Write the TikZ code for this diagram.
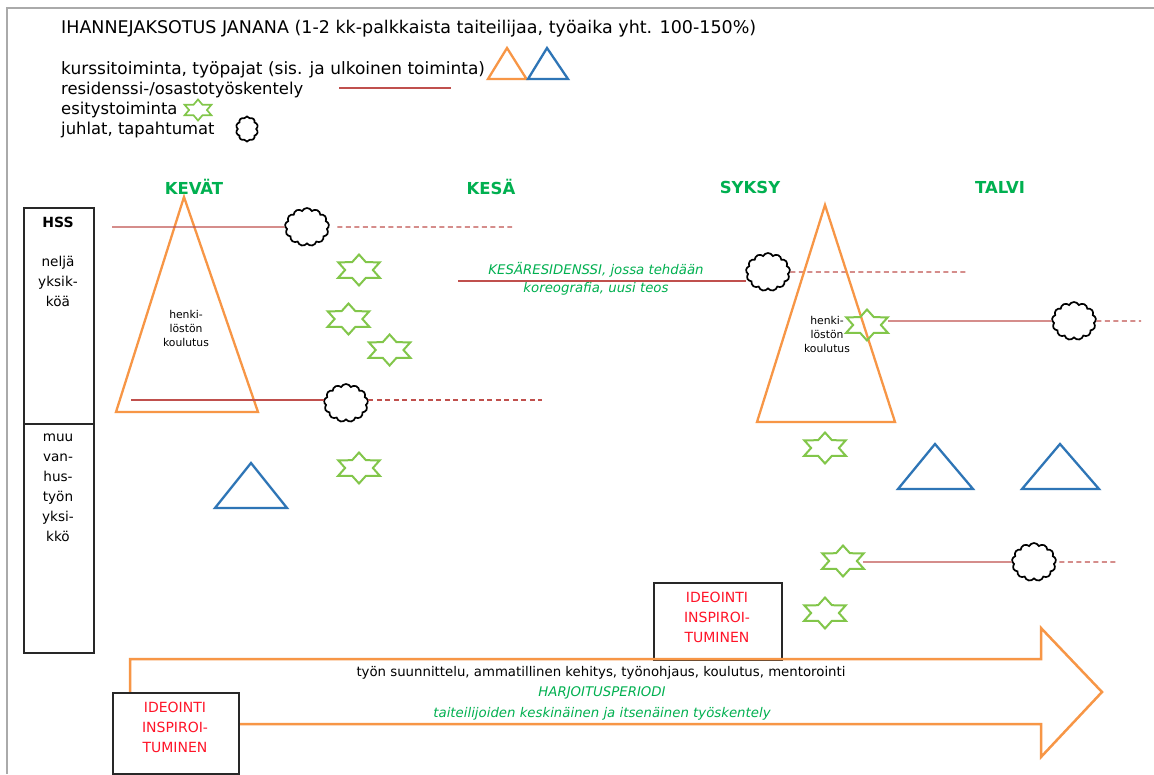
\documentclass[tikz,border=0pt]{standalone}
\usepackage{fontspec}
\setmainfont{DejaVu Sans}
\usetikzlibrary{shapes.geometric,shapes.symbols}
\definecolor{orng}{RGB}{247,150,70}
\definecolor{blu}{RGB}{46,117,182}
\definecolor{resred}{RGB}{192,80,77}
\definecolor{stargreen}{RGB}{130,198,74}
\definecolor{sgreen}{RGB}{0,176,80}
\definecolor{ired}{RGB}{255,20,40}
\definecolor{framegray}{RGB}{170,170,170}
\definecolor{boxline}{RGB}{40,40,40}
\newcommand{\fsz}[2]{\fontsize{#1}{#2}\selectfont}
\tikzset{
  legend/.style={inner sep=0pt, anchor=west, font=\fsz{16.4}{20}},
  season/.style={inner sep=0pt, text=sgreen, font=\bfseries\fsz{16.5}{18}},
  resline/.style={draw=resred, line width=1.3pt},
  resdash/.style={draw=resred, line width=1.3pt, dash pattern=on 5pt off 3.5pt},
  orangetri/.style={draw=orng, line width=2.3pt},
  bluetri/.style={draw=blu, line width=2.3pt},
  staricon/.style={star, star points=6, star point ratio=1.73, draw=stargreen,
    line width=2pt, minimum size=31pt, inner sep=0pt, xscale=1.55},
  cloudicon/.style={cloud, cloud puffs=13, cloud puff arc=130, draw=black,
    line width=1.7pt, minimum width=44pt, minimum height=38pt, inner sep=0pt},
  boxst/.style={draw=boxline, line width=1.8pt, inner sep=0pt},
  boxtxt/.style={inner sep=0pt, align=center, font=\fsz{13.6}{20}},
  smalltxt/.style={inner sep=0pt, align=center, font=\fsz{10.8}{14}},
  redtxt/.style={inner sep=0pt, align=center, text=ired, font=\fsz{14}{20}},
  arrtxt/.style={inner sep=0pt, font=\fsz{13.3}{16}},
  greenital/.style={inner sep=0pt, align=center, text=sgreen, font=\itshape\fsz{13.3}{18}},
  bigarrow/.style={draw=orng, line width=2.5pt, line join=miter}
}
\begin{document}
\begin{tikzpicture}[x=1pt,y=-1pt]
\useasboundingbox (0,0) rectangle (1154,774);
\fill[white] (0,0) rectangle (1154,774);
\draw[framegray, line width=2pt] (7,774) -- (7,8) -- (1154,8);

% legend
\node[legend, font=\fsz{17.5}{20}] (title) at (61,29) {IHANNEJAKSOTUS JANANA (1-2 kk-palkkaista taiteilijaa, työaika yht. 100-150\%)};
\node[legend, font=\fsz{17}{20}] (lk) at (61,70) {kurssitoiminta, työpajat (sis. ja ulkoinen toiminta)};
\draw[orangetri] (488,79) -- (507,48) -- (526.5,79) -- cycle;
\draw[bluetri] (528,79) -- (547,48) -- (568,79) -- cycle;
\node[legend] (lr) at (61,89.5) {residenssi-/osastotyöskentely};
\coordinate (lra) at (339,88);
\coordinate (lrb) at (451,88);
\draw[resline] (lra) -- (lrb);
\node[legend] (le) at (61,110) {esitystoiminta};
\node[staricon, minimum size=21pt, xscale=0.95, line width=1.7pt] (les) at (198,110) {};
\node[legend] (lj) at (61,130) {juhlat, tapahtumat};
\node[cloudicon, minimum width=22pt, minimum height=25pt, cloud puffs=10] (ljc) at (247,129) {};

% seasons
\node[season] (kevat) at (194,187) {KEVÄT};
\node[season] (kesa) at (491,187) {KESÄ};
\node[season] (syksy) at (750,187) {SYKSY};
\node[season] (talvi) at (1000,187) {TALVI};

% left box
\node[boxst, minimum width=70pt, minimum height=216pt, anchor=north west] (hssbox) at (23,207) {};
\node[boxst, minimum width=70pt, minimum height=229pt, anchor=north west] (muubox) at (23,423) {};
\node[boxtxt, font=\bfseries\fsz{14}{20}] (hss) at (58,222) {HSS};
\node[boxtxt] (nelja) at (58,281) {neljä\\yksik-\\köä};
\node[boxtxt] (muu) at (58,487.5) {muu\\van-\\hus-\\työn\\yksi-\\kkö};

% spring triangle
\draw[orangetri] (116,412) -- (184,197) -- (258,412) -- cycle;
\node[smalltxt] (t1txt) at (186,328) {henki-\\löstön\\koulutus};

% residency lines + clouds (left)
\node[cloudicon] (c1) at (307,227) {};
\coordinate (r1a) at (112,227);
\coordinate (d1b) at (512,227);
\draw[resline] (r1a) -- (c1.west);
\draw[resdash] ([xshift=8pt]c1.east) -- (d1b);

\node[cloudicon] (c2) at (346,403) {};
\coordinate (r2a) at (131,400);
\coordinate (d2b) at (542,400);
\draw[resline] (r2a) -- (r2a -| c2.west);
\draw[resdash] (c2.east |- d2b) -- (d2b);

% stars left
\node[staricon] (s1) at (359,270) {};
\node[staricon] (s2) at (348.5,319) {};
\node[staricon] (s3) at (389.6,350) {};
\node[staricon] (s4) at (359,468) {};

\draw[bluetri] (215,508) -- (251,463) -- (287,508) -- cycle;

% summer residency
\node[greenital] (kres) at (596,279) {KESÄRESIDENSSI, jossa tehdään\\koreografia, uusi teos};
\node[cloudicon] (c3) at (768,272) {};
\coordinate (r3a) at (458,281);
\coordinate (d3b) at (968,272);
\draw[resline] (r3a) -- (r3a -| c3.west);
\draw[resdash] (c3.east) -- (d3b);

% autumn triangle
\draw[orangetri] (757,422) -- (825,205) -- (895,422) -- cycle;
\node[smalltxt] (t2txt) at (827,334) {henki-\\löstön\\koulutus};
\node[staricon] (s5) at (867,325) {};
\node[cloudicon] (c4) at (1074,321) {};
\coordinate (r4a) at (888,321);
\coordinate (d4b) at (1141,321);
\draw[resline] (r4a) -- (c4.west);
\draw[resdash] (c4.east) -- (d4b);

\node[staricon] (s6) at (825,448) {};
\draw[bluetri] (898,489) -- (935,444) -- (973,489) -- cycle;
\draw[bluetri] (1022,489) -- (1060,444) -- (1099,489) -- cycle;

\node[staricon] (s7) at (843,561) {};
\node[cloudicon] (c5) at (1034,562) {};
\coordinate (r5a) at (863,562);
\coordinate (d5b) at (1117,562);
\draw[resline] (r5a) -- (c5.west);
\draw[resdash] ([xshift=3pt]c5.east) -- (d5b);

\node[staricon] (s8) at (825,613) {};

% top ideointi box
\node[boxst, minimum width=128pt, minimum height=77pt, anchor=north west] (ibox2) at (653,582) {};
\node[redtxt] (itxt2) at (717,617) {IDEOINTI\\INSPIROI-\\TUMINEN};

% big arrow
\draw[bigarrow] (130,724) -- (130,659) -- (1041,659) -- (1041,628) -- (1102,692) -- (1041,757) -- (1041,724) -- cycle;
\node[arrtxt] (a1) at (601,673) {työn suunnittelu, ammatillinen kehitys, työnohjaus, koulutus, mentorointi};
\node[greenital] (a2) at (602,693) {HARJOITUSPERIODI};
\node[greenital] (a3) at (602,714) {taiteilijoiden keskinäinen ja itsenäinen työskentely};

% bottom ideointi box
\node[boxst, fill=white, minimum width=126pt, minimum height=81pt, anchor=north west] (ibox1) at (112,692) {};
\node[redtxt] (itxt1) at (175,727) {IDEOINTI\\INSPIROI-\\TUMINEN};
\end{tikzpicture}
\end{document}
